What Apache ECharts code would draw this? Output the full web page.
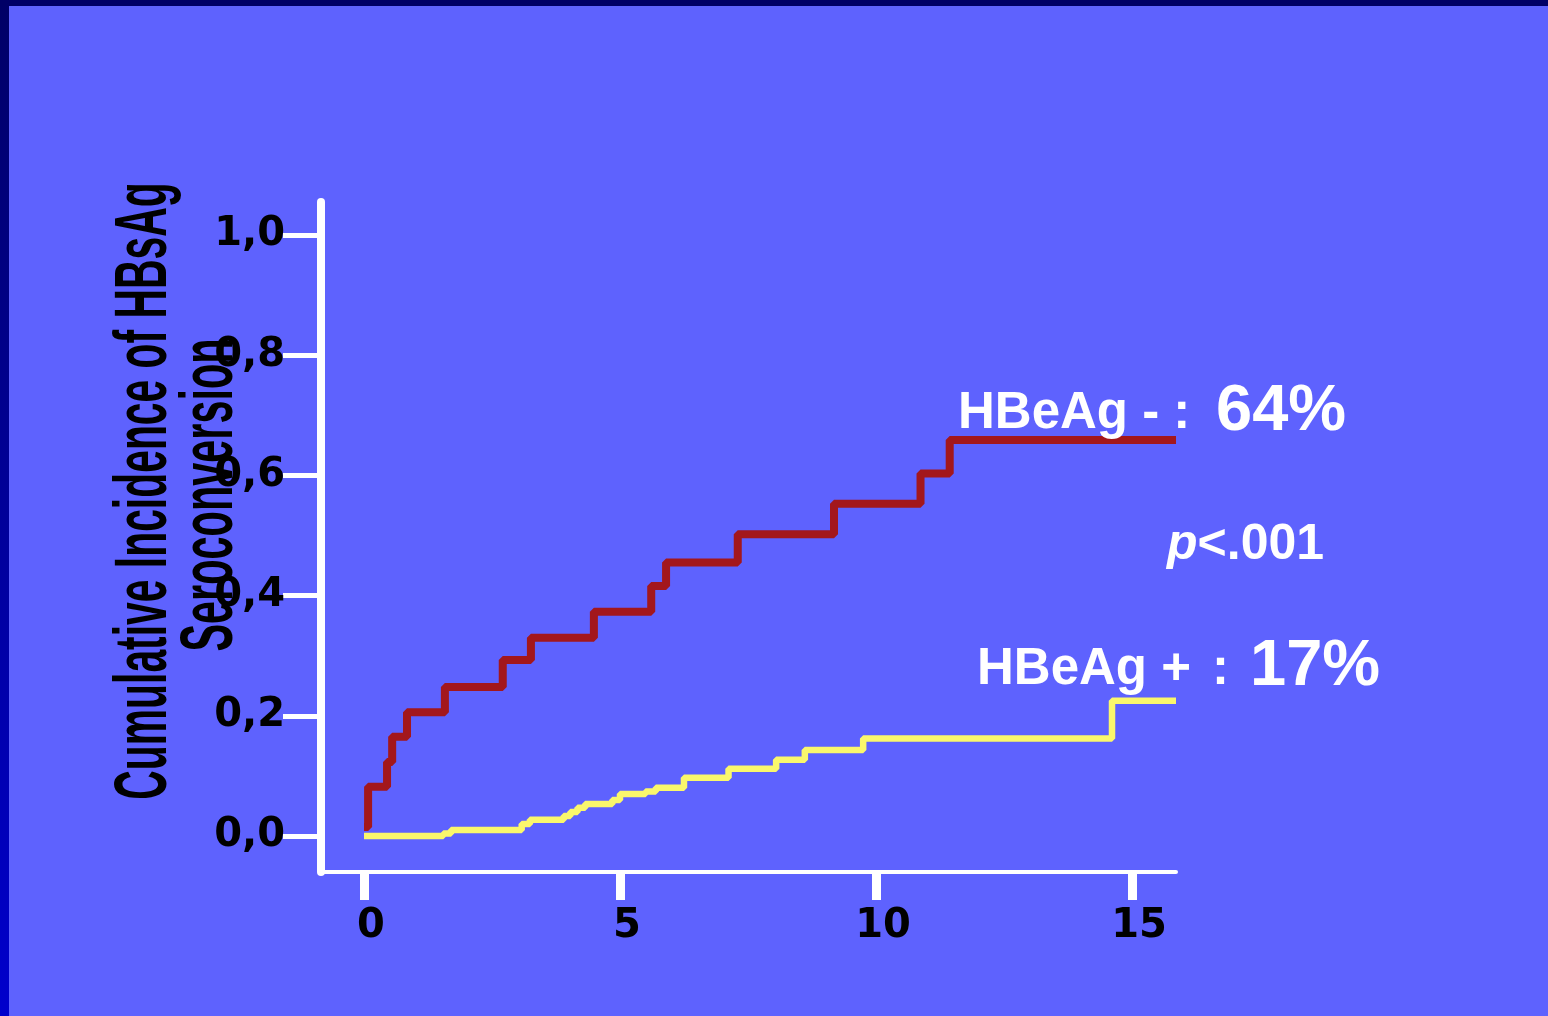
<!DOCTYPE html>
<html>
<head>
<meta charset="utf-8">
<script src="https://cdn.jsdelivr.net/npm/echarts@6/dist/echarts.min.js"></script>
<style>
  html, body { margin: 0; padding: 0; background: #5E62FE; }
  #chart { width: 1548px; height: 1016px; }
</style>
</head>
<body>
<div id="chart"></div>
<script>
// ---- data ----
const xTickValues = [0, 5, 10, 15];
const yTickValues = [0, 0.2, 0.4, 0.6, 0.8, 1.0];
const yTickLabels = ['0,0', '0,2', '0,4', '0,6', '0,8', '1,0'];

// HBeAg negative (red) Kaplan-Meier style cumulative incidence
const negTimes  = [0, 0.08, 0.45, 0.55, 0.84, 1.58, 2.71, 3.26, 4.49, 5.61, 5.90, 7.30, 9.18, 10.87, 11.44, 15.86];
const negValues = [0.015, 0.082, 0.123, 0.165, 0.206, 0.248, 0.293, 0.330, 0.373, 0.416, 0.455, 0.502, 0.553, 0.603, 0.659, 0.659];

// HBeAg positive (yellow)
const posTimes  = [0, 1.55, 1.70, 3.08, 3.24, 3.90, 4.03, 4.17, 4.32, 4.85, 5.00, 5.50, 5.70, 6.25, 7.12, 8.05, 8.61, 9.75, 14.61, 15.86];
const posValues = [0.0, 0.004, 0.010, 0.020, 0.027, 0.033, 0.040, 0.047, 0.053, 0.060, 0.070, 0.074, 0.080, 0.097, 0.112, 0.127, 0.143, 0.162, 0.225, 0.225];

const yTitleLines = ['Cumulative Incidence of HBsAg', 'Seroconversion'];
const negLabel = 'HBeAg - :';
const negPct = '64%';
const posLabel = 'HBeAg +';
const posColon = ':';
const posPct = '17%';
const pText = '<.001';

const toPairs = (xs, ys) => xs.map((x, i) => [x, ys[i]]);

const chart = echarts.init(document.getElementById('chart'), null, { width: 1548, height: 1016 });

const sans = '"Liberation Sans", Arial, sans-serif';
const tickFont = '"DejaVu Sans", sans-serif';

chart.setOption({
  backgroundColor: '#5E62FE',
  animation: false,
  grid: { left: 321, right: 372, top: 202, bottom: 144, containLabel: false },
  xAxis: {
    type: 'value',
    min: -0.84,
    max: 15.86,
    axisLine: { show: true, onZero: false, lineStyle: { color: '#ffffff', width: 4 } },
    axisTick: { show: true, length: 28, customValues: xTickValues, lineStyle: { color: '#ffffff', width: 9 } },
    axisLabel: {
      customValues: xTickValues,
      color: '#000000',
      fontFamily: tickFont,
      fontWeight: 'bold',
      fontSize: 40,
      margin: 35,
      padding: [0, 0, 0, 14]
    },
    splitLine: { show: false }
  },
  yAxis: {
    type: 'value',
    min: -0.06,
    max: 1.055,
    axisLine: { show: true, onZero: false, lineStyle: { color: '#ffffff', width: 8 } },
    axisTick: { show: true, length: 38, customValues: yTickValues, lineStyle: { color: '#ffffff', width: 5 } },
    axisLabel: {
      customValues: yTickValues,
      formatter: (v) => yTickLabels[yTickValues.findIndex(t => Math.abs(t - v) < 1e-6)],
      color: '#000000',
      fontFamily: tickFont,
      fontWeight: 'bold',
      fontSize: 40,
      margin: 36
    },
    splitLine: { show: false }
  },
  series: [
    {
      name: 'HBeAg +',
      type: 'line',
      step: 'end',
      showSymbol: false,
      clip: false,
      data: toPairs(posTimes, posValues),
      lineStyle: { color: '#FAF76C', width: 6.5, cap: 'butt' },
      z: 3
    },
    {
      name: 'HBeAg -',
      type: 'line',
      step: 'end',
      showSymbol: false,
      clip: false,
      data: toPairs(negTimes, negValues),
      lineStyle: { color: '#A3171C', width: 8, cap: 'butt' },
      z: 4
    }
  ],
  graphic: [
    { type: 'rect', left: 0, top: 0, z: 100, silent: true,
      shape: { width: 9, height: 1016 },
      style: { fill: new echarts.graphic.LinearGradient(0, 0, 0, 1, [
        { offset: 0, color: '#000066' }, { offset: 1, color: '#0000CC' }]) } },
    { type: 'rect', left: 0, top: 0, z: 100, silent: true,
      shape: { width: 1548, height: 6 }, style: { fill: '#000066' } },
    { type: 'text', x: 146, y: 491, rotation: Math.PI / 2, scaleX: 0.552, z: 50,
      style: { text: yTitleLines[0], fontFamily: sans, fontWeight: 'bold', fontSize: 74,
               fill: '#000000', align: 'center', verticalAlign: 'middle' } },
    { type: 'text', x: 212, y: 495, rotation: Math.PI / 2, scaleX: 0.56, z: 50,
      style: { text: yTitleLines[1], fontFamily: sans, fontWeight: 'bold', fontSize: 74,
               fill: '#000000', align: 'center', verticalAlign: 'middle' } },
    { type: 'text', x: 958, y: 414, z: 50,
      style: { text: negLabel, fontFamily: sans, fontWeight: 'bold', fontSize: 51,
               fill: '#ffffff', align: 'left', verticalAlign: 'middle' } },
    { type: 'text', x: 1216, y: 412, z: 50,
      style: { text: negPct, fontFamily: sans, fontWeight: 'bold', fontSize: 65,
               fill: '#ffffff', align: 'left', verticalAlign: 'middle' } },
    { type: 'text', x: 1167, y: 545, z: 50,
      style: { text: '{it|p}' + pText, fontFamily: sans, fontWeight: 'bold', fontSize: 50,
               fill: '#ffffff', align: 'left', verticalAlign: 'middle',
               rich: { it: { fontFamily: sans, fontWeight: 'bold', fontStyle: 'italic', fontSize: 50, fill: '#ffffff' } } } },
    { type: 'text', x: 977, y: 670, z: 50,
      style: { text: posLabel, fontFamily: sans, fontWeight: 'bold', fontSize: 51,
               fill: '#ffffff', align: 'left', verticalAlign: 'middle' } },
    { type: 'text', x: 1212, y: 670, z: 50,
      style: { text: posColon, fontFamily: sans, fontWeight: 'bold', fontSize: 51,
               fill: '#ffffff', align: 'left', verticalAlign: 'middle' } },
    { type: 'text', x: 1250, y: 667, z: 50,
      style: { text: posPct, fontFamily: sans, fontWeight: 'bold', fontSize: 65,
               fill: '#ffffff', align: 'left', verticalAlign: 'middle' } }
  ]
});
</script>
</body>
</html>
